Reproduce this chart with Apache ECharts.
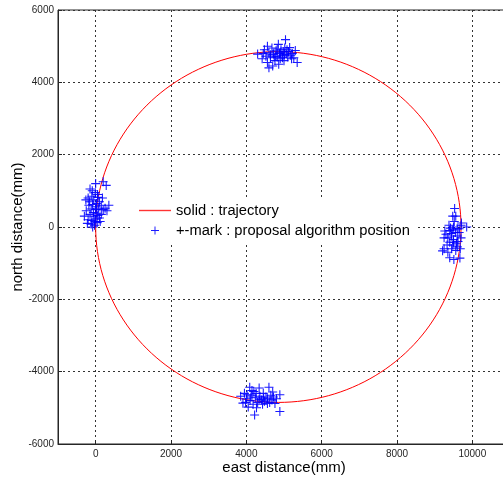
<!DOCTYPE html>
<html>
<head>
<meta charset="utf-8">
<script src="https://cdn.jsdelivr.net/npm/echarts@6/dist/echarts.min.js"></script>
<style>
  html, body { margin: 0; padding: 0; background: #ffffff; }
  #chart { width: 503px; height: 480px; }
</style>
</head>
<body>
<div id="chart"></div>
<script>
// Reference trajectory: a circle (mm)
const trajectoryCenter = [4850, 0];
const trajectoryRadius = 4850;

// Estimated positions from the proposed algorithm (mm), one group per stop
const pointsWest = [
  [-150, 1050], [0, 1200], [200, 1250], [280, 1150], [-200, 800], [-100, 850], [50, 900],
  [-50, 750], [100, 700], [-180, 600], [-80, 620], [20, 650], [150, 600], [350, 600],
  [-250, 450], [-120, 500], [0, 480], [80, 520], [200, 480], [300, 450], [-300, 300],
  [-150, 350], [-50, 300], [60, 320], [150, 350], [-200, 200], [-100, 180], [0, 220],
  [100, 250], [-220, 100], [-120, 80], [-30, 50], [40, 120], [120, 150], [-60, 400],
  [30, 380], [-160, 700], [10, 560], [-90, 1000], [60, 820], [-10, 950], [180, 800],
  [250, 520], [-260, 750], [-20, 150], [-80, 0]
];
const pointsNorth = [
  [4300, 4780], [4420, 4650], [4480, 4900], [4520, 4720], [4560, 4550], [4600, 4820],
  [4640, 4680], [4680, 4950], [4700, 4450], [4720, 4780], [4760, 4600], [4790, 4870],
  [4820, 4700], [4850, 5050], [4860, 4500], [4880, 4800], [4900, 4650], [4920, 4900],
  [4950, 4750], [4980, 4850], [5000, 4600], [5020, 4950], [5040, 5180], [5060, 4780],
  [5100, 4700], [5120, 4850], [5150, 4960], [5180, 4750], [5220, 4800], [5260, 4680],
  [5300, 4880], [5350, 4550], [4560, 5000], [4640, 4760], [4740, 4700], [4820, 4920],
  [4900, 4820], [4960, 4680], [5080, 4900], [4600, 4400], [4450, 4800], [5010, 4760],
  [4780, 4720], [5200, 4650]
];
const pointsEast = [
  [9530, 510], [9480, 300], [9560, 300], [9710, 110], [9850, 0], [9650, -50], [9500, 0],
  [9400, -100], [9270, -110], [9550, -150], [9450, -250], [9600, -250], [9350, -300],
  [9500, -350], [9700, -300], [9400, -420], [9580, -450], [9250, -600], [9450, -600],
  [9600, -550], [9210, -660], [9400, -850], [9510, -900], [9670, -860], [9300, -200],
  [9650, -150], [9480, -80], [9380, 50], [9700, 50], [9520, 150], [9620, -400],
  [9330, -500], [9480, -500], [9560, -650], [9440, -180], [9250, -300], [9600, -50],
  [9680, -600], [9420, -30], [9500, -420], [9350, -700]
];
const pointsSouth = [
  [3850, -4680], [3910, -4870], [3950, -4600], [4000, -4750], [4050, -4980], [4090, -4430],
  [4100, -4800], [4150, -4650], [4180, -4900], [4200, -4550], [4220, -5200], [4250, -4720],
  [4270, -5000], [4300, -4850], [4340, -4450], [4360, -4680], [4400, -4780], [4430, -4900],
  [4450, -4600], [4480, -4820], [4520, -4700], [4560, -4750], [4600, -4430], [4620, -4850],
  [4650, -4650], [4680, -4780], [4720, -4700], [4760, -4880], [4800, -4750], [4890, -4640],
  [4890, -5100], [3980, -4850], [4120, -4700], [4260, -4600], [4340, -4760], [4560, -4880],
  [4700, -4560], [4020, -4640], [4460, -4730], [4150, -4520]
];

// Axis ticks
const xTicks = [0, 2000, 4000, 6000, 8000, 10000];
const yTicks = [-6000, -4000, -2000, 0, 2000, 4000, 6000];

// Closed path sampled along the trajectory circle
const trajectoryPath = [];
for (let i = 0; i <= 360; i += 2) {
  const a = i * Math.PI / 180;
  trajectoryPath.push([
    trajectoryCenter[0] + trajectoryRadius * Math.cos(a),
    trajectoryCenter[1] + trajectoryRadius * Math.sin(a)
  ]);
}

const allPoints = pointsWest.concat(pointsNorth, pointsEast, pointsSouth);

const plusSymbol = 'path://M4.4,0h1.2v10h-1.2z M0,4.4h10v1.2h-10z';
const lineIcon = 'path://M0,0h30v1.3h-30z';
const axisColor = '#262626';
const font = 'Liberation Sans, Arial, sans-serif';
const plainNumber = v => String(v);

const gridLine = { show: true, lineStyle: { color: '#333333', type: [2, 3], width: 1 } };

const chart = echarts.init(document.getElementById('chart'), null, { renderer: 'canvas' });
chart.setOption({
  animation: false,
  backgroundColor: '#ffffff',
  textStyle: { fontFamily: font },
  grid: {
    left: 58, top: 10, width: 452, height: 434,
    containLabel: false,
    outerBoundsMode: 'none',
    show: true, borderColor: axisColor, borderWidth: 1, backgroundColor: 'transparent'
  },
  legend: {
    orient: 'vertical',
    left: 131, top: 199,
    backgroundColor: '#ffffff',
    padding: [3, 6, 3, 8],
    itemGap: 3,
    itemWidth: 32, itemHeight: 8,
    symbolKeepAspect: true,
    textStyle: { fontFamily: font, fontSize: 14.7, color: '#000000', lineHeight: 17 },
    data: [
      { name: 'solid : trajectory', icon: lineIcon, itemStyle: { color: '#ff3333' } },
      { name: '+-mark : proposal algorithm position', icon: plusSymbol }
    ]
  },
  xAxis: {
    type: 'value',
    min: -1000, max: 11000,
    name: 'east distance(mm)',
    nameLocation: 'middle',
    nameGap: 16,
    nameMoveOverlap: false,
    nameTextStyle: { fontFamily: font, fontSize: 15, color: '#000000' },
    axisLine: { show: true, onZero: false, lineStyle: { color: axisColor } },
    axisTick: { show: true, inside: true, length: 4, customValues: xTicks, lineStyle: { color: axisColor } },
    axisLabel: { customValues: xTicks, formatter: plainNumber, fontFamily: font, fontSize: 10, color: axisColor, margin: 5 },
    splitLine: gridLine
  },
  yAxis: {
    type: 'value',
    min: -6000, max: 6000, interval: 2000,
    name: 'north distance(mm)',
    nameLocation: 'middle',
    nameGap: 33,
    nameMoveOverlap: false,
    nameRotate: 90,
    nameTextStyle: { fontFamily: font, fontSize: 15, color: '#000000' },
    axisLine: { show: true, onZero: false, lineStyle: { color: axisColor } },
    axisTick: { show: true, inside: true, length: 4, lineStyle: { color: axisColor } },
    axisLabel: { formatter: plainNumber, fontFamily: font, fontSize: 10, color: axisColor, margin: 4 },
    splitLine: gridLine
  },
  series: [
    {
      name: 'solid : trajectory',
      type: 'line',
      data: trajectoryPath,
      showSymbol: false,
      symbol: 'none',
      smooth: false,
      lineStyle: { color: '#ff0000', width: 1 },
      itemStyle: { color: '#ff0000' },
      z: 3
    },
    {
      name: '+-mark : proposal algorithm position',
      type: 'scatter',
      data: allPoints,
      symbol: plusSymbol,
      symbolSize: 9,
      itemStyle: { color: '#0000ff', opacity: 0.9 },
      z: 4
    }
  ]
});
</script>
</body>
</html>
